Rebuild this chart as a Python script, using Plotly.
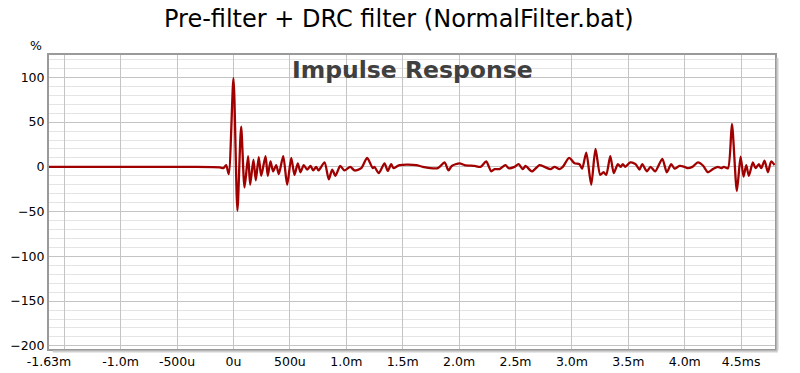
import plotly.graph_objects as go

# Impulse response key points (time in ms, amplitude in %)
time_ms = [-1.635, -0.40, -0.12, -0.09, -0.065, -0.042, 0.0, 0.035, 0.068, 0.098, 0.130, 0.148,
           0.177, 0.198, 0.224, 0.246, 0.284, 0.304, 0.328, 0.352, 0.379, 0.402, 0.441, 0.476,
           0.512, 0.541, 0.570, 0.594, 0.623, 0.653, 0.683, 0.707, 0.733, 0.754, 0.807, 0.845,
           0.875, 0.904, 0.946, 0.984, 1.035, 1.073, 1.132, 1.185, 1.235, 1.250, 1.288, 1.339,
           1.368, 1.398, 1.418, 1.472, 1.620, 1.678, 1.811, 1.871, 1.906, 1.935, 2.004, 2.048,
           2.137, 2.190, 2.240, 2.285, 2.314, 2.358, 2.411, 2.438, 2.491, 2.527, 2.565, 2.589,
           2.645, 2.713, 2.757, 2.810, 2.846, 2.890, 2.919, 2.975, 3.023, 3.067, 3.091, 3.127,
           3.171, 3.209, 3.251, 3.280, 3.304, 3.340, 3.371, 3.407, 3.431, 3.451, 3.473, 3.517,
           3.564, 3.599, 3.623, 3.664, 3.697, 3.738, 3.801, 3.841, 3.880, 3.910, 3.954, 3.998,
           4.028, 4.067, 4.117, 4.161, 4.205, 4.249, 4.294, 4.324, 4.347, 4.383, 4.418, 4.462,
           4.495, 4.521, 4.545, 4.568, 4.604, 4.628, 4.657, 4.678, 4.707, 4.737, 4.766, 4.796]
amplitude = [0.0, 0.0, -0.5, -1.5, 2.0, -8.0, 99.0, -49.0, 45.0, -23.0, 12.0, -20.0,
             8.0, -15.0, 11.0, -10.0, 12.0, -10.0, 6.0, -5.0, 2.0, -8.0, 12.0, -20.0,
             10.0, -9.0, 4.0, -6.0, 2.0, -3.0, 1.0, -4.0, 0.0, -4.0, 5.0, -14.0,
             -3.0, -10.0, 1.0, -4.0, 0.0, -4.0, -1.5, 10.0, -1.5, 0.0, -7.0, 4.0,
             -4.5, 3.0, -1.5, 2.0, 2.0, 0.0, -1.5, 5.0, -4.0, 1.0, 4.0, 2.0,
             1.0, 0.0, 6.0, -5.0, -2.5, -2.5, 2.0, -1.5, 0.0, 3.0, -2.5, 1.0,
             -5.0, 2.0, 0.0, -2.5, 0.0, -2.5, 0.0, 10.0, 4.0, 3.0, -2.0, 16.0,
             -20.0, 20.0, -9.0, -6.0, -9.0, 12.0, -7.0, 3.0, 0.0, 3.0, 0.0, 5.0,
             3.0, -3.0, 3.0, -5.0, 0.0, -5.0, 9.0, -6.0, 3.0, -2.0, 1.0, 0.0,
             -1.5, 0.0, 5.0, 1.5, -6.0, -2.5, 0.0, -1.5, 0.0, -1.5, 48.0, -27.0,
             11.5, -11.0, 2.0, -10.0, 5.0, -1.5, 3.0, -1.5, 7.0, -6.0, 6.0, 2.0]

x_tick_vals = [-1.635, -1.5, -1.0, -0.5, 0.0, 0.5, 1.0, 1.5, 2.0, 2.5, 3.0, 3.5, 4.0, 4.5]
x_tick_text = ["-1.63m", "", "-1.0m", "-500u", "0u", "500u", "1.0m", "1.5m", "2.0m",
               "2.5m", "3.0m", "3.5m", "4.0m", "4.5ms"]
y_tick_vals = [-200, -150, -100, -50, 0, 50, 100]

fig = go.Figure()
fig.add_trace(go.Scatter(
    x=time_ms, y=amplitude, mode="lines",
    line=dict(color="#a00000", width=2.3, shape="spline", smoothing=0.7),
    hoverinfo="skip", showlegend=False,
))

shadow = "#cfcfcf"
fig.update_layout(
    width=800, height=373,
    margin=dict(l=49, r=25, t=55, b=24),
    paper_bgcolor="white", plot_bgcolor="white",
    font=dict(family="DejaVu Sans", size=12, color="black"),
    xaxis=dict(range=[-1.635, 4.8], tickmode="array", tickvals=x_tick_vals,
               ticktext=x_tick_text, showgrid=True, gridcolor="#c4c4c4", gridwidth=1,
               zeroline=False, showline=True, linecolor="#9a9a9a", linewidth=2,
               mirror=True, ticks="", automargin=False,
               tickfont=dict(size=12.5, color="black")),
    yaxis=dict(range=[-203.5, 125], tickmode="array", tickvals=y_tick_vals,
               showgrid=True, gridcolor="#c4c4c4", gridwidth=1,
               minor=dict(dtick=10, showgrid=True, gridcolor="#e4e4e4", gridwidth=1),
               zeroline=False, showline=True, linecolor="#9a9a9a", linewidth=2,
               mirror=True, ticks="", automargin=False,
               tickfont=dict(size=12.5, color="black")),
    shapes=[
        dict(type="line", xref="paper", yref="paper", xsizemode="pixel", xanchor=1,
             x0=2.5, x1=2.5, y0=-0.005, y1=0.99, line=dict(color=shadow, width=2)),
        dict(type="line", xref="paper", yref="paper", ysizemode="pixel", yanchor=0,
             y0=-2.5, y1=-2.5, x0=0.005, x1=1.004, line=dict(color=shadow, width=2)),
    ],
    annotations=[
        dict(text="Pre-filter + DRC filter (NormalFilter.bat)", xref="paper", yref="paper",
             x=0.5, y=1, xanchor="center", yanchor="middle", yshift=36, showarrow=False,
             xshift=-13, font=dict(size=24, color="black", family="DejaVu Sans")),
        dict(text="<b>Impulse Response</b>", xref="paper", yref="paper", x=0.5, y=1,
             xanchor="center", yanchor="middle", yshift=-15, showarrow=False,
             font=dict(size=23.5, color="#404040", family="DejaVu Sans")),
        dict(text="%", xref="paper", yref="paper", x=0, y=1, xanchor="right",
             yanchor="middle", xshift=-5, yshift=10, showarrow=False,
             font=dict(size=12.5, color="black", family="DejaVu Sans")),
    ],
)

# remove the default 8px page margin so the figure fills the 800x373 window exactly
fig.write_html("out.html", config={"displayModeBar": False, "staticPlot": True},
               post_script="document.body.style.margin='0px';")
